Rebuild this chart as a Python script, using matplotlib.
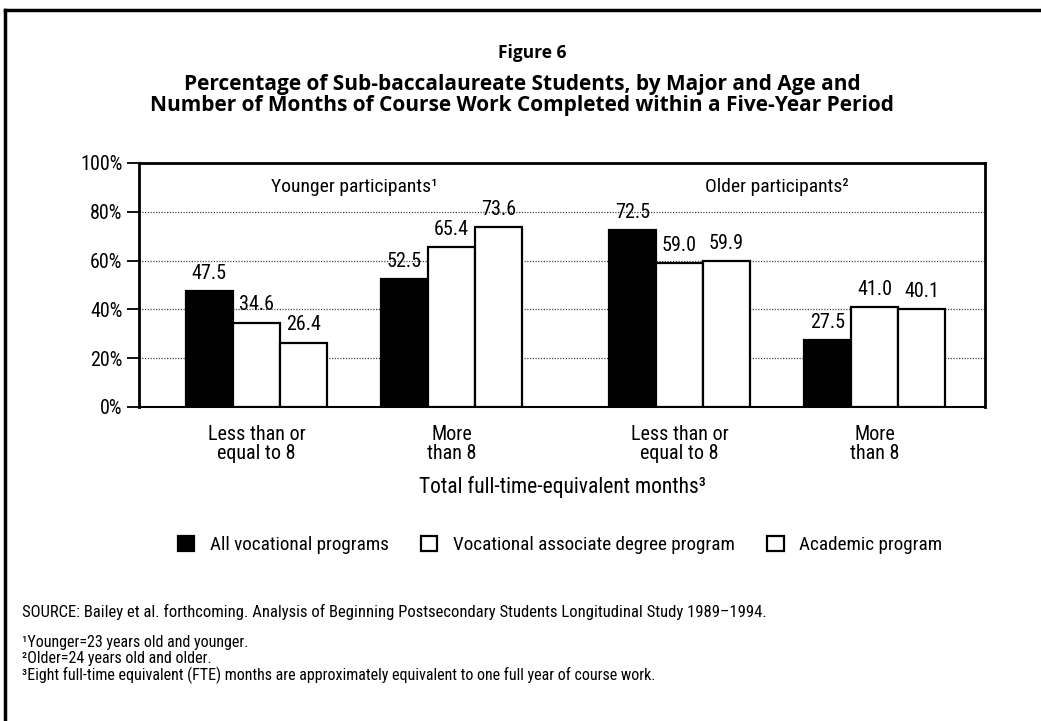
import matplotlib
matplotlib.use('Agg')
import matplotlib.pyplot as plt
from matplotlib import font_manager
from matplotlib.patches import Patch
from matplotlib.lines import Line2D

# data
periods = ['Less than or\nequal to 8', 'More\nthan 8', 'Less than or\nequal to 8', 'More\nthan 8']
age_groups = ['Younger participants¹', 'Older participants²']
all_vocational = [47.5, 52.5, 72.5, 27.5]
voc_associate = [34.6, 65.4, 59.0, 41.0]
academic = [26.4, 73.6, 59.9, 40.1]
series_names = ['All vocational programs', 'Vocational associate degree program', 'Academic program']
yticks = [0, 20, 40, 60, 80, 100]


def pick_font(prefs):
    names = {f.name for f in font_manager.fontManager.ttflist}
    for p in prefs:
        if p in names:
            return p
    return 'DejaVu Sans'

narrow = pick_font(['Liberation Sans Narrow', 'DejaVu Sans Condensed', 'Roboto Condensed', 'Liberation Sans'])
head = pick_font(['Open Sans', 'Liberation Sans', 'DejaVu Sans'])
plt.rcParams['font.family'] = [narrow, 'DejaVu Sans']

W, H = 1041, 721
fig = plt.figure(figsize=(W / 100, H / 100), dpi=100)
fig.patch.set_facecolor('white')

def fx(px):
    return px / W

def fy(py):
    return 1 - py / H

# axes placed to match the reference frame
ax = fig.add_axes([fx(139), fy(407), fx(985) - fx(139), fy(163) - fy(407)])

centers = [0, 4.15, 9.0, 13.15]
bw = 1.0
series = [all_vocational, voc_associate, academic]
faces = ['black', 'white', 'white']

for k, (vals, fc) in enumerate(zip(series, faces)):
    xs = [c + (k - 1) * bw for c in centers]
    ax.bar(xs, vals, width=bw, color=fc, edgecolor='black', linewidth=1.6, zorder=3)
    for x, v in zip(xs, vals):
        ax.annotate(f'{v:.1f}', (x, v), xytext=(0, 6), textcoords='offset points',
                    ha='center', va='bottom', fontsize=14.5, zorder=4)

ax.set_xlim(-2.5, 15.5)
ax.set_ylim(0, 100)
ax.set_yticks(yticks)
ax.set_yticklabels([f'{t}%' for t in yticks], fontsize=14.5)
for t in yticks[1:-1]:
    ax.axhline(t, color='#444444', linewidth=0.9, linestyle=(0, (1, 1.2)), zorder=1)

ax.set_xticks(centers)
ax.set_xticklabels(periods, fontsize=14.5, linespacing=1.0)
ax.tick_params(axis='x', length=0, pad=13)
ax.tick_params(axis='y', length=9, width=1.3, direction='out', pad=3)

for side in ['top', 'left', 'right']:
    ax.spines[side].set_linewidth(2.0)
ax.spines['bottom'].set_linewidth(1.5)

# age-group headings
ax.text((centers[0] + centers[1]) / 2, 90, age_groups[0], ha='center', va='center', fontsize=14)
ax.text((centers[2] + centers[3]) / 2, 90, age_groups[1], ha='center', va='center', fontsize=14)

# titles
fig.text(fx(532), fy(53), 'Figure 6', ha='center', va='center', fontsize=12.5,
         fontweight='bold', family=[head, 'DejaVu Sans'])
fig.text(fx(522), fy(95), 'Percentage of Sub-baccalaureate Students, by Major and Age and\n'
         'Number of Months of Course Work Completed within a Five-Year Period',
         ha='center', va='center', fontsize=15, fontweight='bold', linespacing=0.98,
         family=[head, 'DejaVu Sans'])

fig.text(fx(562), fy(487), 'Total full-time-equivalent months³', ha='center', va='center', fontsize=15.5)

handles = [Patch(facecolor=fc, edgecolor='black', linewidth=1.6) for fc in faces]
fig.legend(handles, series_names, loc='center', bbox_to_anchor=(fx(560), fy(545)), ncol=3,
           frameon=False, fontsize=13.8, handlelength=0.85, handleheight=0.85,
           handletextpad=0.8, columnspacing=1.7)

fig.text(fx(22), fy(612), 'SOURCE: Bailey et al. forthcoming. Analysis of Beginning Postsecondary '
         'Students Longitudinal Study 1989–1994.', ha='left', va='center', fontsize=12)
notes = ['¹Younger=23 years old and younger.',
         '²Older=24 years old and older.',
         '³Eight full-time equivalent (FTE) months are approximately equivalent to one full year of course work.']
for i, n in enumerate(notes):
    fig.text(fx(22), fy(643 + 16 * i), n, ha='left', va='center', fontsize=11.5)

# page frame
fig.add_artist(Line2D([fx(5), fx(5)], [fy(10), 0], color='black', linewidth=2.5))
fig.add_artist(Line2D([fx(5), 1], [fy(10), fy(10)], color='black', linewidth=2.5))

fig.savefig('out.png', dpi=100)
